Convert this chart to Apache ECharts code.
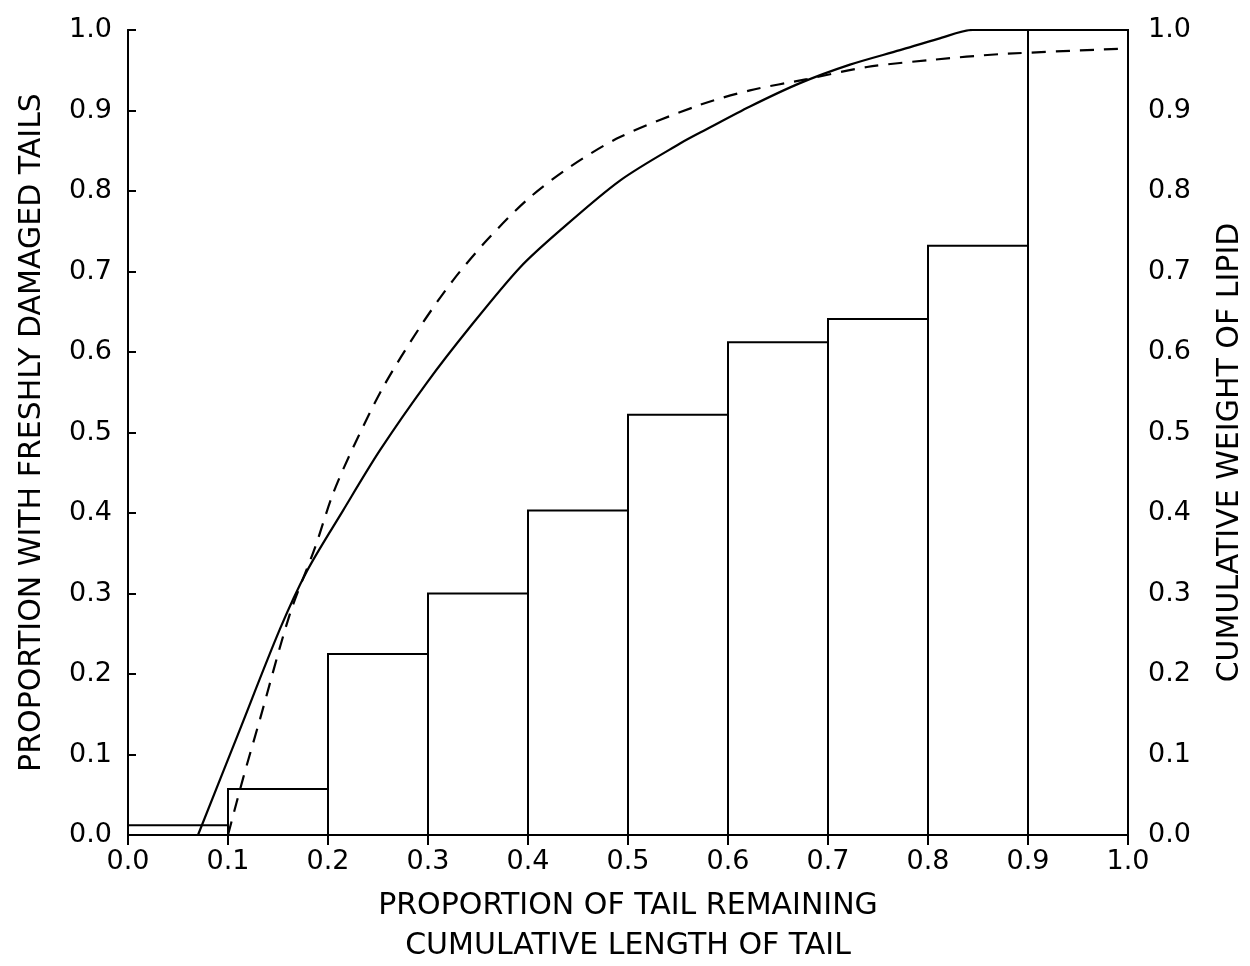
<!DOCTYPE html>
<html>
<head>
<meta charset="utf-8">
<script src="https://cdn.jsdelivr.net/npm/echarts@6/dist/echarts.min.js"></script>
<style>html,body{margin:0;padding:0;background:#fff}#c{width:1250px;height:966px}</style>
</head>
<body>
<div id="c"></div>
<script>
var binStarts = [0.0, 0.1, 0.2, 0.3, 0.4, 0.5, 0.6, 0.7, 0.8, 0.9];
var binEnds   = [0.1, 0.2, 0.3, 0.4, 0.5, 0.6, 0.7, 0.8, 0.9, 1.0];
var binValues = [0.012, 0.057, 0.225, 0.300, 0.403, 0.522, 0.612, 0.641, 0.732, 1.0];
var solidX = [0.070, 0.110, 0.152, 0.179, 0.215, 0.252, 0.299, 0.342, 0.392, 0.432, 0.492, 0.552, 0.579, 0.622, 0.672, 0.722, 0.772, 0.810, 0.845, 0.900, 1.0];
var solidY = [0.000, 0.125, 0.256, 0.328, 0.403, 0.478, 0.562, 0.631, 0.705, 0.751, 0.813, 0.859, 0.877, 0.905, 0.934, 0.957, 0.975, 0.989, 1.0, 1.0, 1.0];
var dashX = [0.100, 0.115, 0.132, 0.162, 0.187, 0.205, 0.225, 0.255, 0.292, 0.325, 0.359, 0.399, 0.442, 0.492, 0.572, 0.622, 0.679, 0.739, 0.805, 0.872, 1.0];
var dashY = [0.000, 0.070, 0.144, 0.275, 0.357, 0.424, 0.481, 0.556, 0.631, 0.689, 0.739, 0.789, 0.830, 0.867, 0.907, 0.925, 0.939, 0.954, 0.963, 0.970, 0.977];
var xTickLabels = ['0.0','0.1','0.2','0.3','0.4','0.5','0.6','0.7','0.8','0.9','1.0'];
var yTickLabels = ['0.0','0.1','0.2','0.3','0.4','0.5','0.6','0.7','0.8','0.9','1.0'];

function zip(a, b) { return a.map(function (v, i) { return [v, b[i]]; }); }
function tickFmt(list) { return function (v) { return list[Math.round(v * 10)]; }; }

var FONT = 'DejaVu Sans';
var chart = echarts.init(document.getElementById('c'), null, {renderer: 'canvas'});
var axisLine = {show: true, lineStyle: {color: '#000', width: 2}};
chart.setOption({
  animation: false,
  backgroundColor: '#fff',
  grid: {left: 128, right: 122, top: 30, bottom: 131, containLabel: false, outerBoundsMode: 'none'},
  xAxis: [
    {
      type: 'value', min: 0, max: 1, interval: 0.1, position: 'bottom',
      name: 'PROPORTION OF TAIL REMAINING\nCUMULATIVE LENGTH OF TAIL',
      nameLocation: 'middle', nameGap: 51,
      nameTextStyle: {fontFamily: FONT, fontSize: 30, lineHeight: 40, color: '#000', verticalAlign: 'top'},
      axisLine: axisLine,
      axisTick: {show: true, inside: true, length: 8, lineStyle: {color: '#000', width: 2}},
      axisLabel: {formatter: tickFmt(xTickLabels), fontFamily: FONT, fontSize: 27, color: '#000', margin: 13},
      splitLine: {show: false}
    },
    {
      type: 'value', min: 0, max: 1, interval: 0.1, position: 'top',
      axisLine: axisLine,
      axisTick: {show: true, inside: true, length: 10, lineStyle: {color: '#000', width: 2}},
      axisLabel: {show: false}, splitLine: {show: false}
    }
  ],
  yAxis: [
    {
      type: 'value', min: 0, max: 1, interval: 0.1, position: 'left',
      name: 'PROPORTION WITH FRESHLY DAMAGED TAILS',
      nameLocation: 'middle', nameGap: 81, nameRotate: 90,
      nameTextStyle: {fontFamily: FONT, fontSize: 30, color: '#000'},
      axisLine: axisLine,
      axisTick: {show: true, inside: true, length: 8, lineStyle: {color: '#000', width: 2}},
      axisLabel: {formatter: tickFmt(yTickLabels), fontFamily: FONT, fontSize: 27, color: '#000', margin: 16},
      splitLine: {show: false}
    },
    {
      type: 'value', min: 0, max: 1, interval: 0.1, position: 'right',
      name: 'CUMULATIVE WEIGHT OF LIPID',
      nameLocation: 'middle', nameGap: 87, nameRotate: 90,
      nameTextStyle: {fontFamily: FONT, fontSize: 30, color: '#000', padding: [0, 40, 0, 0]},
      axisLine: axisLine,
      axisTick: {show: true, inside: false, length: 8, lineStyle: {color: '#000', width: 2}},
      axisLabel: {formatter: tickFmt(yTickLabels), fontFamily: FONT, fontSize: 27, color: '#000', margin: 20},
      splitLine: {show: false}
    }
  ],
  series: [
    {
      type: 'custom', xAxisIndex: 0, yAxisIndex: 0,
      data: binStarts.map(function (s, i) { return [s, binEnds[i], binValues[i]]; }),
      encode: {x: [0, 1], y: 2},
      renderItem: function (params, api) {
        var p0 = api.coord([api.value(0), 0]);
        var p1 = api.coord([api.value(1), api.value(2)]);
        return {
          type: 'rect',
          shape: {x: p0[0], y: p1[1], width: p1[0] - p0[0], height: p0[1] - p1[1]},
          style: {fill: 'none', stroke: '#000', lineWidth: 2}
        };
      },
      z: 2
    },
    {
      type: 'line', xAxisIndex: 0, yAxisIndex: 0, data: zip(solidX, solidY),
      showSymbol: false, smooth: 0.3,
      lineStyle: {color: '#000', width: 2.2}, z: 3
    },
    {
      type: 'line', xAxisIndex: 0, yAxisIndex: 1, data: zip(dashX, dashY),
      showSymbol: false, smooth: 0.3,
      lineStyle: {color: '#000', width: 2.2, type: [14, 10]}, z: 3
    }
  ]
});
</script>
</body>
</html>
